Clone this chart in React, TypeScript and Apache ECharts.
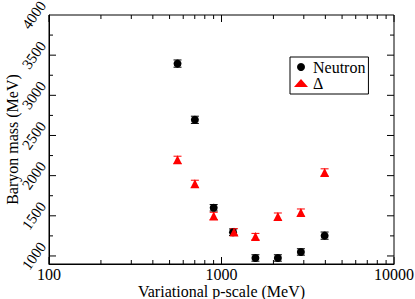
import React, { useEffect, useRef } from 'react';
import * as echarts from 'echarts';

const pScaleNeutron = [556, 701, 901, 1166, 1573, 2122, 2886, 3960];
const neutronMass = [3395, 2695, 1600, 1296, 975, 975, 1050, 1253];
const neutronErr = [45, 45, 40, 40, 40, 40, 40, 45];
const pScaleDelta = [556, 701, 901, 1182, 1573, 2122, 2886, 3960];
const deltaMass = [2197, 1898, 1499, 1299, 1241, 1490, 1540, 2040];
const deltaErr = [45, 45, 45, 40, 40, 45, 45, 45];

const xMajorTicks = [100, 1000, 10000];
const xMinorTicks = [200, 300, 400, 500, 600, 700, 800, 900, 2000, 3000, 4000, 5000, 6000, 7000, 8000, 9000];
const yMajorTicks = [1000, 1500, 2000, 2500, 3000, 3500];
const yMinorTicks = [1250, 1750, 2250, 2750, 3250, 3750];

const X_MIN = 100;
const X_MAX = 10000;
const Y_MIN = 900;
const Y_MAX = 4000;

const FONT = 'Times New Roman, Liberation Serif, DejaVu Serif, serif';

function errRender(color: string) {
  return (params: any, api: any) => {
    const x = api.value(0);
    const y = api.value(1);
    const e = api.value(2);
    const hi = api.coord([x, y + e]);
    const lo = api.coord([x, y - e]);
    const w = 4;
    const style = { stroke: color, lineWidth: 1 };
    return {
      type: 'group',
      children: [
        { type: 'line', shape: { x1: hi[0], y1: hi[1], x2: lo[0], y2: lo[1] }, style },
        { type: 'line', shape: { x1: hi[0] - w, y1: hi[1], x2: hi[0] + w, y2: hi[1] }, style },
        { type: 'line', shape: { x1: lo[0] - w, y1: lo[1], x2: lo[0] + w, y2: lo[1] }, style },
      ],
    };
  };
}

export default function App() {
  const ref = useRef<HTMLDivElement>(null);
  useEffect(() => {
    if (!ref.current) return;
    const chart = echarts.init(ref.current, undefined, { renderer: 'svg' });
    const xTickData = [
      ...xMajorTicks.map((v) => [v, Y_MIN, 7]),
      ...xMinorTicks.map((v) => [v, Y_MIN, 4]),
    ];
    const yTickData = [
      ...yMajorTicks.map((v) => [X_MIN, v, 7]),
      ...yMinorTicks.map((v) => [X_MIN, v, 4]),
    ];
    const option: any = {
      animation: false,
      backgroundColor: '#fff',
      textStyle: { fontFamily: FONT },
      grid: {
        left: 49,
        right: 21,
        top: 15,
        bottom: 35,
        containLabel: false,
        outerBoundsMode: 'none',
        show: true,
        borderColor: '#000',
        borderWidth: 1,
        backgroundColor: 'transparent',
      },
      legend: {
        orient: 'vertical',
        left: 290,
        top: 57,
        borderColor: '#000',
        borderWidth: 1,
        borderRadius: 0,
        padding: [2, 3, 3, 4],
        itemWidth: 14,
        itemHeight: 8,
        itemGap: 0,
        textStyle: { fontSize: 16, fontFamily: FONT, color: '#000', lineHeight: 15 },
        data: [
          { name: 'Neutron', icon: 'circle' },
          { name: 'Δ', icon: 'triangle' },
        ],
      },
      xAxis: {
        type: 'log',
        logBase: 10,
        min: X_MIN,
        max: X_MAX,
        axisLine: { show: true, lineStyle: { color: '#000', width: 1 } },
        axisTick: { show: false },
        splitLine: { show: false },
        axisLabel: {
          fontSize: 16,
          fontFamily: FONT,
          color: '#000',
          margin: 2,
          formatter: (v: number) => String(Math.round(v)),
        },
        name: 'Variational p-scale (MeV)',
        nameLocation: 'middle',
        nameGap: 19,
        nameMoveOverlap: false,
        nameTextStyle: { fontSize: 16, fontFamily: FONT, color: '#000' },
      },
      yAxis: {
        type: 'value',
        min: Y_MIN,
        max: Y_MAX,
        interval: 100,
        axisLine: { show: true, lineStyle: { color: '#000', width: 1 } },
        axisTick: { show: false },
        splitLine: { show: false },
        axisLabel: {
          fontSize: 15,
          fontFamily: FONT,
          color: '#000',
          rotate: 55,
          align: 'center',
          verticalAlign: 'middle',
          margin: 15,
          formatter: (v: number) => (v % 500 === 0 ? String(v) : ''),
        },
        name: 'Baryon mass (MeV)',
        nameLocation: 'middle',
        nameGap: 29,
        nameMoveOverlap: false,
        nameTextStyle: { fontSize: 16, fontFamily: FONT, color: '#000' },
      },
      series: [
        {
          type: 'custom',
          name: 'xticks',
          silent: true,
          clip: false,
          encode: { x: 0, y: 1 },
          data: xTickData,
          renderItem: (params: any, api: any) => {
            const x = api.value(0);
            const len = api.value(2);
            const b = api.coord([x, Y_MIN]);
            const t = api.coord([x, Y_MAX]);
            const style = { stroke: '#000', lineWidth: 1 };
            return {
              type: 'group',
              children: [
                { type: 'line', shape: { x1: b[0], y1: b[1], x2: b[0], y2: b[1] - len }, style },
                { type: 'line', shape: { x1: t[0], y1: t[1], x2: t[0], y2: t[1] + len }, style },
              ],
            };
          },
        },
        {
          type: 'custom',
          name: 'yticks',
          silent: true,
          clip: false,
          encode: { x: 0, y: 1 },
          data: yTickData,
          renderItem: (params: any, api: any) => {
            const y = api.value(1);
            const len = api.value(2);
            const l = api.coord([X_MIN, y]);
            const r = api.coord([X_MAX, y]);
            const style = { stroke: '#000', lineWidth: 1 };
            return {
              type: 'group',
              children: [
                { type: 'line', shape: { x1: l[0], y1: l[1], x2: l[0] + len, y2: l[1] }, style },
                { type: 'line', shape: { x1: r[0], y1: r[1], x2: r[0] - len, y2: r[1] }, style },
              ],
            };
          },
        },
        {
          type: 'custom',
          name: 'neutronErr',
          silent: true,
          encode: { x: 0, y: 1 },
          data: pScaleNeutron.map((x, i) => [x, neutronMass[i], neutronErr[i]]),
          renderItem: errRender('#000'),
        },
        {
          type: 'custom',
          name: 'deltaErr',
          silent: true,
          encode: { x: 0, y: 1 },
          data: pScaleDelta.map((x, i) => [x, deltaMass[i], deltaErr[i]]),
          renderItem: errRender('#ff0000'),
        },
        {
          type: 'scatter',
          name: 'Neutron',
          symbol: 'circle',
          symbolSize: 8,
          itemStyle: { color: '#000', opacity: 1 },
          data: pScaleNeutron.map((x, i) => [x, neutronMass[i]]),
          z: 5,
        },
        {
          type: 'scatter',
          name: 'Δ',
          symbol: 'triangle',
          symbolSize: 9,
          itemStyle: { color: '#ff0000', opacity: 1 },
          data: pScaleDelta.map((x, i) => [x, deltaMass[i]]),
          z: 5,
        },
      ],
    };
    chart.setOption(option);
    return () => chart.dispose();
  }, []);
  return (
    <div
      ref={ref}
      style={{ position: 'fixed', left: 0, top: 0, width: 415, height: 299, background: '#fff' }}
    />
  );
}
